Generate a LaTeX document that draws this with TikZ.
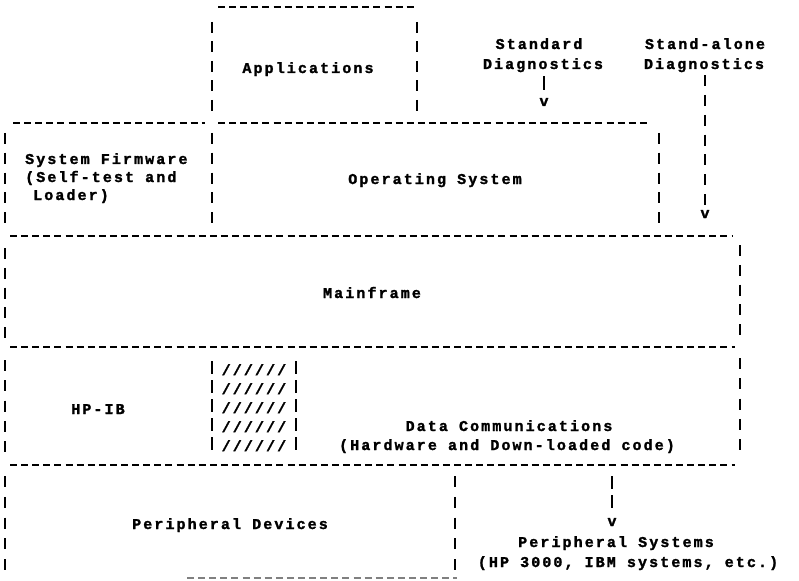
\documentclass[tikz,border=0pt]{standalone}
\usepackage{fontspec}
\newfontfamily\tw{Liberation Mono}[LetterSpace=14, BoldFeatures={FakeBold=1.6}]
\begin{document}
\begin{tikzpicture}[x=1pt,y=-1pt,
  hdash/.style={line width=1.8pt, dash pattern=on 7pt off 4.1pt},
  vbar/.style={line width=1.9pt},
  lbl/.style={font={\tw\bfseries\fontsize{15pt}{18pt}\selectfont}, inner sep=0pt, text height=10pt, text depth=0pt}]
\useasboundingbox (0,0) rectangle (799,580);
% ---- horizontal edges
\draw[hdash] (218,7) -- (414,7);
\draw[hdash] (13,123) -- (205,123);
\draw[hdash] (218,123) -- (650,123);
\draw[hdash] (10,236) -- (732,236);
\draw[hdash] (10,347) -- (735,347);
\draw[hdash] (10,465) -- (735,465);
\draw[hdash,gray] (187,578) -- (457,578);
% ---- vertical edges
\draw[vbar, dash pattern=on 11pt off 8.5pt] (212,22) -- (212,111);
\draw[vbar, dash pattern=on 11pt off 8.5pt] (417,22) -- (417,111);
\draw[vbar, dash pattern=on 11pt off 8.75pt] (5,133) -- (5,223);
\draw[vbar, dash pattern=on 11pt off 8.75pt] (212,133) -- (212,223);
\draw[vbar, dash pattern=on 11pt off 8.75pt] (659,133) -- (659,223);
\draw[vbar, dash pattern=on 11pt off 8.75pt] (5,248) -- (5,338);
\draw[vbar, dash pattern=on 11pt off 8.75pt] (740,245) -- (740,335);
\draw[vbar, dash pattern=on 11pt off 9.25pt] (5,360) -- (5,452);
\draw[vbar, dash pattern=on 11pt off 9.25pt] (740,358) -- (740,450);
\draw[vbar, dash pattern=on 13pt off 6pt] (212,361) -- (212,450);
\draw[vbar, dash pattern=on 13pt off 6pt] (296,361) -- (296,450);
\draw[vbar, dash pattern=on 11pt off 9.75pt] (5,476) -- (5,570);
\draw[vbar, dash pattern=on 11pt off 9.75pt] (455,476) -- (455,570);
% ---- labels
\node[lbl] (app) at (308,68) {Applications};
\node[lbl] (std1) at (539,44) {Standard};
\node[lbl] (std2) at (543,64) {Diagnostics};
\node[lbl] (vstd) at (544,101) {v};
\node[lbl] (sa1) at (705,44) {Stand-alone};
\node[lbl] (sa2) at (704,64) {Diagnostics};
\node[lbl] (vsa) at (705,213) {v};
\node[lbl,anchor=west] (fw1) at (25,159) {System Firmware};
\node[lbl,anchor=west] (fw2) at (25,177) {(Self-test and};
\node[lbl,anchor=west] (fw3) at (33,195) {Loader)};
\node[lbl] (os) at (435,179) {Operating System};
\node[lbl] (mf) at (372,293) {Mainframe};
\node[lbl] (hpib) at (98,409) {HP-IB};
\foreach \yy/\nm in {370/h1,389/h2,408/h3,427/h4,446/h5}
  \node[lbl] (\nm) at (254,\yy) {//////};
\node[lbl] (dc1) at (509,426) {Data Communications};
\node[lbl] (dc2) at (507,445) {(Hardware and Down-loaded code)};
\node[lbl] (pd) at (230,524) {Peripheral Devices};
\node[lbl] (vps) at (612,521) {v};
\node[lbl] (ps1) at (616,542) {Peripheral Systems};
\node[lbl] (ps2) at (628,562) {(HP 3000, IBM systems, etc.)};
% ---- arrows (bars ending in v)
\coordinate (dcbot) at (612,465);
\draw[vbar, shorten <=7pt, shorten >=6pt] (std2.south -| vstd) -- (vstd.north);
\draw[vbar, dash pattern=on 11pt off 8.8pt, shorten <=6pt, shorten >=3pt] (sa2.south -| vsa) -- (vsa.north);
\draw[vbar, dash pattern=on 13pt off 6pt, shorten <=11pt, shorten >=8pt] (dcbot) -- (vps.north);
\end{tikzpicture}
\end{document}
